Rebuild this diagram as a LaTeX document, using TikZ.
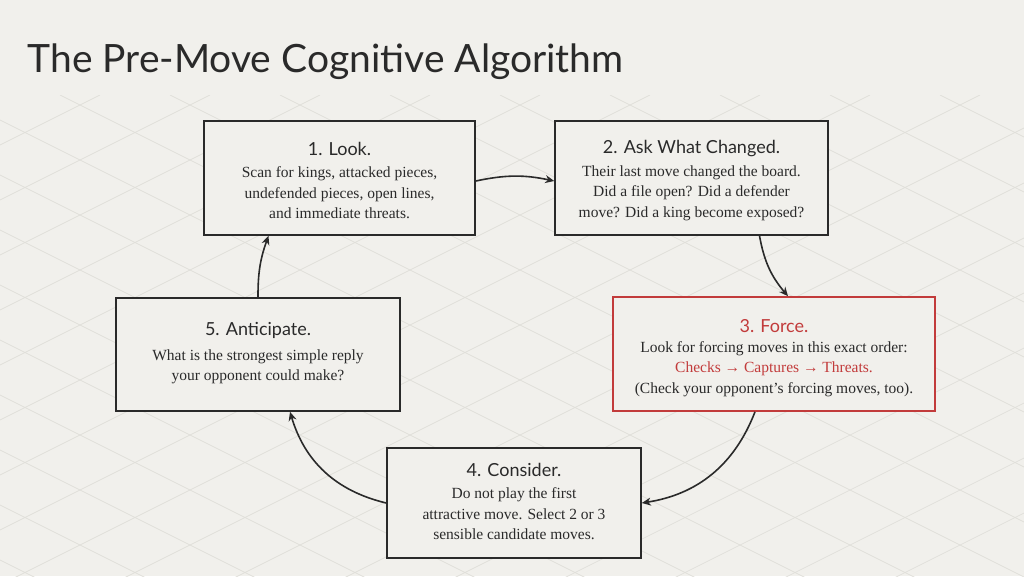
\documentclass[tikz,border=0pt]{standalone}
\usepackage{fontspec}
\setmainfont{Liberation Serif}
\newfontfamily\hd{Lato}
\usetikzlibrary{arrows.meta}
\definecolor{bg}{HTML}{F1F0EC}
\definecolor{ink}{HTML}{2A2A2A}
\definecolor{redc}{HTML}{C23B3B}
\definecolor{gridc}{HTML}{E0DFDA}
\begin{document}
\begin{tikzpicture}[x=1pt,y=-1pt,
  box/.style={draw=ink,line width=1.6pt,fill=bg,align=center,inner sep=0pt},
  head/.style={font=\hd\fontsize{18}{20}\selectfont},
  body/.style={text=ink,align=center,font=\fontsize{15.5}{20.5}\selectfont},
  conn/.style={draw=ink,line width=1.6pt,-{Stealth[length=9pt,width=8pt]}}]
\useasboundingbox (0,0) rectangle (1024,576);
\fill[bg] (0,0) rectangle (1024,576);
\begin{scope}
\clip (0,95) rectangle (1024,576);
\foreach \k in {-12,...,16}{
  \draw[gridc,line width=0.7pt] (\k*110-600,95) -- ++(1200,600);
  \draw[gridc,line width=0.7pt] (\k*110+100,95) -- ++(-1200,600);
}
\end{scope}
\node[anchor=west,text=ink,font=\hd\fontsize{39}{42}\selectfont] (title) at (24,62) {The Pre-Move Cognitive Algorithm};

\node[box,minimum width=271pt,minimum height=114pt] (b1) at (339.5,178) {};
\node[head,text=ink] (h1) at (339.5,149) {1. Look.};
\node[body] (t1) at (339.5,193) {Scan for kings, attacked pieces,\\undefended pieces, open lines,\\and immediate threats.};

\node[box,minimum width=273pt,minimum height=114pt] (b2) at (691.5,178) {};
\node[head,text=ink] (h2) at (691.5,149) {2. Ask What Changed.};
\node[body] (t2) at (691.5,193) {Their last move changed the board.\\Did a file open? Did a defender\\move? Did a king become exposed?};

\node[box,draw=redc,minimum width=322pt,minimum height=114pt] (b3) at (774,354) {};
\node[head,text=redc] (h3) at (774,326) {3. Force.};
\node[body] (t3) at (774,369) {Look for forcing moves in this exact order:\\\textcolor{redc}{Checks → Captures → Threats.}\\(Check your opponent's forcing moves, too).};

\node[box,minimum width=254pt,minimum height=110pt] (b4) at (514,503) {};
\node[head,text=ink] (h4) at (514,470) {4. Consider.};
\node[body] (t4) at (514,514) {Do not play the first\\attractive move. Select 2 or 3\\sensible candidate moves.};

\node[box,minimum width=284pt,minimum height=113pt] (b5) at (258,354.5) {};
\node[head,text=ink] (h5) at (258,330) {5. Anticipate.};
\node[body] (t5) at (258,367) {What is the strongest simple reply\\your opponent could make?};

\draw[conn] (b1.east |- 0,181) to[bend left=12] (b2.west |- 0,181);
\draw[conn] ([xshift=68pt]b2.south) to[bend right=15] ([xshift=14pt]b3.north);
\draw[conn] ([xshift=-19pt]b3.south) to[bend left=30] (b4.east);
\draw[conn] (b4.west) to[bend left=30] ([xshift=32pt]b5.south);
\draw[conn] (b5.north) to[bend left=10] ([xshift=-71pt]b1.south);
\end{tikzpicture}
\end{document}
